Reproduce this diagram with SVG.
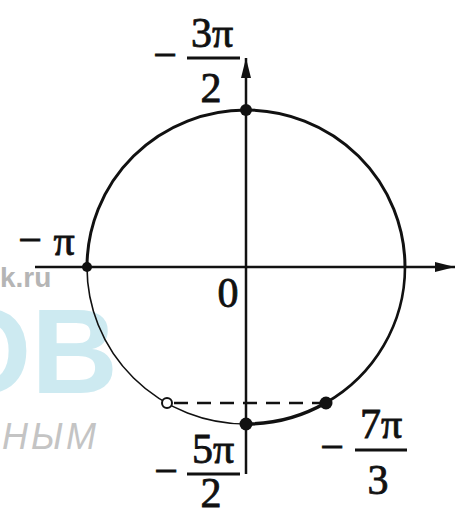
<svg xmlns="http://www.w3.org/2000/svg" width="457" height="517" viewBox="0 0 457 517">
<style>
.ax{stroke:#111;stroke-width:2.5;fill:none}
.bar{stroke:#111;stroke-width:3}
.arc{fill:none;stroke:#111;stroke-linecap:round}
.dot{fill:#111;stroke:none}
</style>
<defs>
<marker id="ah" viewBox="0 0 20 10" refX="20" refY="5" markerWidth="20" markerHeight="10" markerUnits="userSpaceOnUse" orient="auto">
<path d="M0,0 L20,5 L0,10 Z" fill="#111"/>
</marker>
</defs>
<rect width="457" height="517" fill="#fff"/>
<g id="watermark">
<text x="0" y="287" font-family="Liberation Sans, Arial, sans-serif" font-weight="bold" font-size="28" fill="#b5b5b5">k.ru</text>
<text x="-62" y="393" font-family="Liberation Sans, Arial, sans-serif" font-weight="bold" font-size="120" fill="#cdeaf1">OB</text>
<text x="2" y="449" font-family="Liberation Sans, Arial, sans-serif" font-style="italic" font-size="36" fill="#c4c4c4" letter-spacing="3">НЫМ</text>
</g>
<g id="connectors">
<line class="ax" x1="35" y1="267" x2="455" y2="267" marker-end="url(#ah)"/>
<line class="ax" x1="246" y1="474" x2="246" y2="58" marker-end="url(#ah)"/>
<line x1="174" y1="403" x2="320" y2="403" stroke="#111" stroke-width="2.5" stroke-dasharray="14 9"/>
</g>
<g id="circle">
<path class="arc" stroke-width="3" d="M87,267 A159,157 0 0 1 405,267"/>
<path class="arc" stroke-width="2.6" d="M405,267 A159,157 0 0 1 325.5,403"/>
<path class="arc" stroke-width="3.6" d="M325.5,403 A159,157 0 0 1 246,424"/>
<path class="arc" stroke-width="1.6" d="M246,424 A159,157 0 0 1 87,267"/>
</g>
<g font-family="'Liberation Serif', 'DejaVu Serif', serif" font-size="42" fill="#111" stroke="#111" stroke-width="0.8" text-anchor="middle">
<g id="point-top"><circle class="dot" cx="246" cy="110" r="6"/>
<text x="165" y="69">−</text>
<text x="212" y="47">3π</text>
<line class="bar" x1="187" y1="58" x2="240" y2="58"/>
<text x="211" y="102">2</text>
</g>
<g id="point-left"><circle class="dot" cx="87" cy="267" r="5"/>
<text x="30" y="254">−</text>
<text x="64" y="255">π</text>
</g>
<g id="origin"><text x="228" y="307">0</text></g>
<g id="point-bottom"><circle class="dot" cx="246" cy="424" r="6.5"/>
<text x="166" y="485">−</text>
<text x="213" y="463">5π</text>
<line class="bar" x1="187" y1="474" x2="240" y2="474"/>
<text x="211" y="507">2</text>
</g>
<g id="point-right"><circle class="dot" cx="326" cy="403" r="6.5"/>
<text x="332" y="461">−</text>
<text x="381" y="438">7π</text>
<line class="bar" x1="355" y1="450" x2="407" y2="450"/>
<text x="378" y="494">3</text>
</g>
</g>
<g id="point-open"><circle cx="167" cy="403" r="5" fill="#fff" stroke="#111" stroke-width="2"/></g>
</svg>
